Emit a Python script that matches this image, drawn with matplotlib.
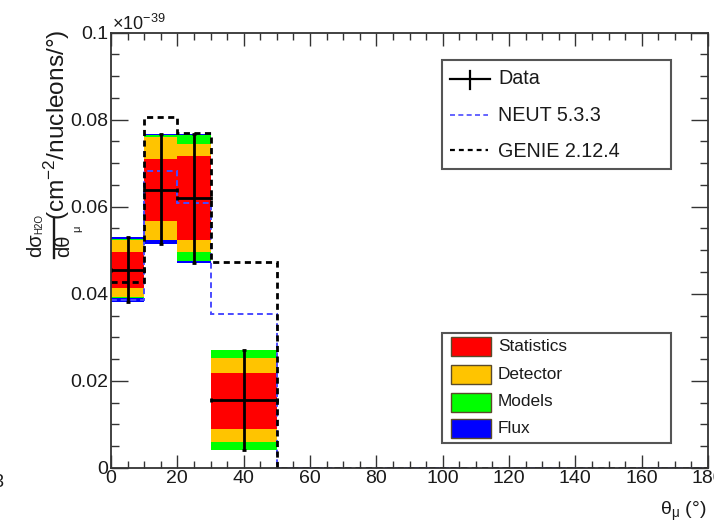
import matplotlib
matplotlib.use('Agg')
import matplotlib.pyplot as plt
import numpy as np
from matplotlib.patches import Rectangle
from matplotlib.lines import Line2D
from matplotlib.ticker import MultipleLocator, FuncFormatter

plt.rcParams['font.family'] = ['Liberation Sans', 'DejaVu Sans']
plt.rcParams['mathtext.fontset'] = 'custom'
plt.rcParams['mathtext.rm'] = 'Liberation Sans'
plt.rcParams['mathtext.it'] = 'Liberation Sans:italic'
plt.rcParams['mathtext.bf'] = 'Liberation Sans:bold'
plt.rcParams['mathtext.sf'] = 'Liberation Sans'

# ---- data (units of 1e-39 cm^2/nucleon/deg) ----
bin_edges = [0, 10, 20, 30, 50, 180]
data = [0.0455, 0.0639, 0.0620, 0.0156, 0.0]
neut = [0.0386, 0.0681, 0.0609, 0.0354, 0.0]
genie = [0.0428, 0.0806, 0.0769, 0.0473, 0.0]
stat_lo = [0.0413, 0.0568, 0.0524, 0.0090, 0.0]
stat_hi = [0.0497, 0.0710, 0.0716, 0.0219, 0.0]
det_lo = [0.0392, 0.0524, 0.0495, 0.0060, 0.0]
det_hi = [0.0523, 0.0760, 0.0744, 0.0253, 0.0]
mod_lo = [0.0391, 0.0523, 0.0476, 0.0042, 0.0]
mod_hi = [0.0525, 0.0764, 0.0765, 0.0271, 0.0]
flux_lo = [0.0382, 0.0514, 0.0471, 0.0041, 0.0]
flux_hi = [0.0531, 0.0768, 0.0767, 0.0272, 0.0]

W, H = 714, 521
fig = plt.figure(figsize=(W / 100, H / 100), dpi=100)
L, R, T, B = 111, 708, 32.5, 468
ax = fig.add_axes([L / W, 1 - B / H, (R - L) / W, (B - T) / H])

def fx(x):
    return x / W

def fy(y):
    return 1 - y / H

edges = np.array(bin_edges, dtype=float)
left = edges[:-1]
width = np.diff(edges)
centers = left + width / 2

layers = [
    (flux_lo, flux_hi, '#0000ff'),
    (mod_lo, mod_hi, '#00ff00'),
    (det_lo, det_hi, '#ffc400'),
    (stat_lo, stat_hi, '#ff0000'),
]
for lo, hi, col in layers:
    lo = np.array(lo); hi = np.array(hi)
    m = hi > lo
    ax.bar(left[m], (hi - lo)[m], width=width[m], bottom=lo[m], align='edge',
           color=col, edgecolor='none', linewidth=0, zorder=2)

ax.stairs(neut, edges, baseline=None, color='#4a4aff', linestyle=(0, (3, 2)),
          linewidth=1.4, zorder=3)
ax.stairs(genie, edges, baseline=None, color='black', linestyle=(0, (2.2, 1.6)),
          linewidth=2.0, zorder=3)

d = np.array(data)
m = d > 0
yerr = np.vstack([(d - np.array(flux_lo))[m], (np.array(flux_hi) - d)[m]])
ax.errorbar(centers[m], d[m], xerr=(width / 2)[m], yerr=yerr, fmt='none',
            ecolor='black', elinewidth=2.0, capsize=1.2, capthick=2, zorder=4)

ax.set_xlim(0, 180)
ax.set_ylim(0, 0.1)
ax.xaxis.set_major_locator(MultipleLocator(20))
ax.xaxis.set_minor_locator(MultipleLocator(5))
ax.yaxis.set_major_locator(MultipleLocator(0.02))
ax.yaxis.set_minor_locator(MultipleLocator(0.005))
ax.yaxis.set_major_formatter(FuncFormatter(lambda v, p: '%g' % round(v, 4)))
ax.tick_params(which='both', direction='in', top=True, right=True,
               colors='#333333', width=1.0, labelcolor='#1a1a1a', labelsize=14)
ax.tick_params(axis='x', which='major', length=9.4, pad=1.5)
ax.tick_params(axis='x', which='minor', length=5)
ax.tick_params(axis='y', which='major', length=12, pad=2)
ax.tick_params(axis='y', which='minor', length=5.8)
for s in ax.spines.values():
    s.set_color('#333333')
    s.set_linewidth(1.3)
    s.set_zorder(5)

# exponent
fig.text(fx(112), fy(30), r'$\times$10$^{-39}$', fontsize=13, color='#1a1a1a',
         ha='left', va='baseline')

# y-axis title: fraction built from pieces + units
tc = '#1a1a1a'
fig.text(fx(36), fy(257), 'dσ', rotation=90, ha='center', va='bottom',
         fontsize=14.5, color=tc)
fig.text(fx(39.5), fy(234), 'H2O', rotation=90, ha='center', va='bottom',
         fontsize=7, color=tc)
fig.lines.append(Line2D([fx(54), fx(54)], [fy(219), fy(258)], transform=fig.transFigure,
                        color=tc, lw=1.7))
fig.text(fx(64), fy(257), 'dθ', rotation=90, ha='center', va='bottom',
         fontsize=14.5, color=tc)
fig.text(fx(77.5), fy(232), 'μ', rotation=90, ha='center', va='bottom',
         fontsize=8, color=tc)
fig.text(fx(57), fy(30), '(cm$^{-2}$/nucleons/°)', rotation=90, ha='center',
         va='top', fontsize=17.6, color=tc)

fig.text(fx(706), fy(515), r'θ$_{\mathregular{\mu}}$ (°)', ha='right',
         va='baseline', fontsize=14, color=tc)

# stray clipped character at left edge
fig.text(fx(-7), fy(487), '3', fontsize=13, color=tc, ha='left', va='baseline')

# ---- legend 1 ----
fig.patches.append(Rectangle((fx(442), fy(169)), (671 - 442) / W, (169 - 60) / H,
                             transform=fig.transFigure, facecolor='white',
                             edgecolor='#555555', linewidth=1.5, zorder=6))
fig.lines.append(Line2D([fx(450), fx(490)], [fy(79), fy(79)], transform=fig.transFigure,
                        color='black', lw=1.6, zorder=7))
fig.lines.append(Line2D([fx(470), fx(470)], [fy(71), fy(89)], transform=fig.transFigure,
                        color='black', lw=1.6, zorder=7))
fig.lines.append(Line2D([fx(450), fx(488)], [fy(114.5), fy(114.5)], transform=fig.transFigure,
                        color='#4a4aff', lw=1.2, linestyle=(0, (3, 2)), zorder=7))
fig.lines.append(Line2D([fx(450), fx(488)], [fy(150), fy(150)], transform=fig.transFigure,
                        color='black', lw=1.6, linestyle=(0, (2.2, 1.8)), zorder=7))
for lab, yy in [('Data', 79), ('NEUT 5.3.3', 115.5), ('GENIE 2.12.4', 151.5)]:
    fig.text(fx(498), fy(yy), lab, fontsize=14.2, ha='left', va='center',
             color=tc, zorder=8)

# ---- legend 2 ----
fig.patches.append(Rectangle((fx(442), fy(443)), (671 - 442) / W, (443 - 333) / H,
                             transform=fig.transFigure, facecolor='white',
                             edgecolor='#555555', linewidth=1.5, zorder=6))
for lab, col, yy in [('Statistics', '#ff0000', 346.5), ('Detector', '#ffc400', 374.5),
                     ('Models', '#00ff00', 402), ('Flux', '#0000ff', 428.5)]:
    fig.patches.append(Rectangle((fx(451), fy(yy + 9.5)), 40 / W, 19 / H,
                                 transform=fig.transFigure, facecolor=col,
                                 edgecolor='#5a4a2a', linewidth=1.0, zorder=7))
    fig.text(fx(498), fy(yy), lab, fontsize=12.4, ha='left', va='center',
             color=tc, zorder=8)

fig.savefig('out.png', dpi=100)
